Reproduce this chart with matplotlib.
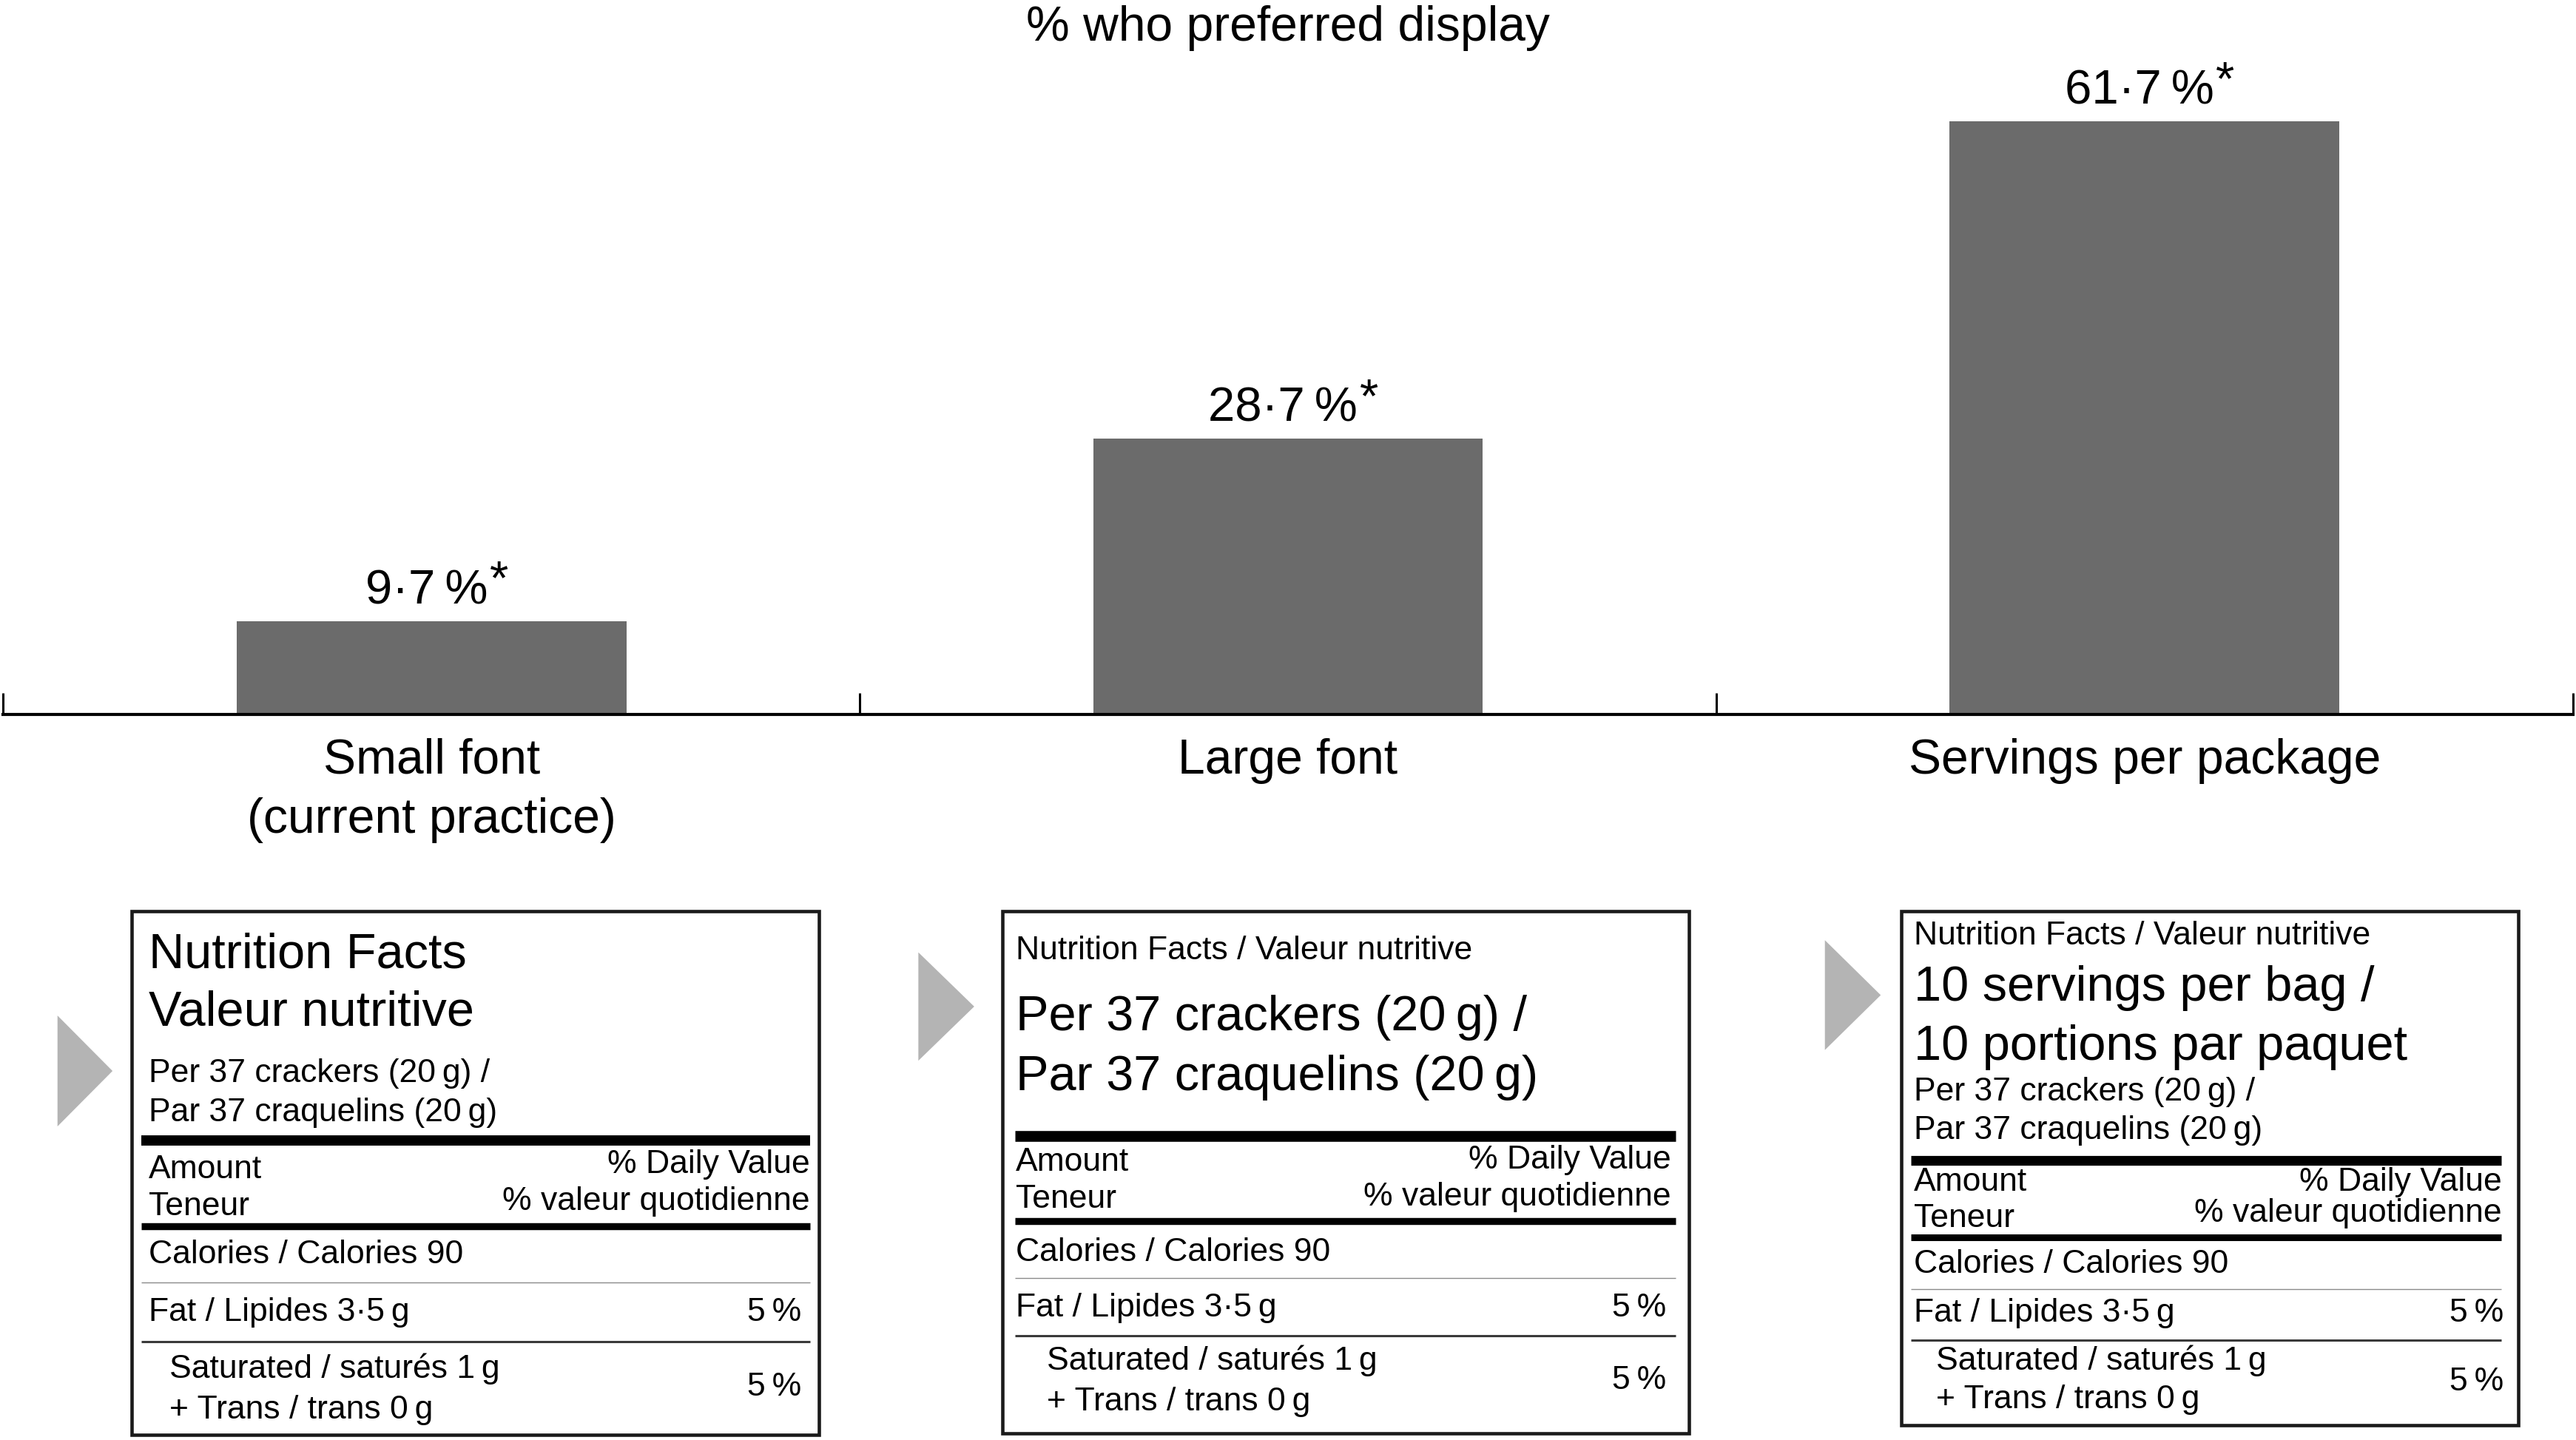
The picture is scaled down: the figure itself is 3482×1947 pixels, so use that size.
import matplotlib
matplotlib.use("Agg")
import matplotlib.pyplot as plt
from matplotlib.patches import Polygon, Rectangle

plt.rcParams['font.family'] = ['Liberation Sans', 'DejaVu Sans']

# ---- bar chart data ----
categories = ["Small font\n(current practice)", "Large font", "Servings per package"]
preferred = [9.7, 28.7, 61.7]
title = "% who preferred display"

# ---- nutrition panel texts ----
panel_headers = [
    ["Nutrition Facts", "Valeur nutritive",
     "Per 37 crackers (20\u2009g) /", "Par 37 craquelins (20\u2009g)"],
    ["Nutrition Facts / Valeur nutritive",
     "Per 37 crackers (20\u2009g) /", "Par 37 craquelins (20\u2009g)"],
    ["Nutrition Facts / Valeur nutritive",
     "10 servings per bag /", "10 portions par paquet",
     "Per 37 crackers (20\u2009g) /", "Par 37 craquelins (20\u2009g)"],
]
amount_text = ["Amount", "Teneur"]
dv_text = ["% Daily Value", "% valeur quotidienne"]
calories_text = "Calories / Calories 90"
fat_text = "Fat / Lipides 3\u00b75\u2009g"
fat_dv = "5\u2009%"
sat_text = ["Saturated / saturés 1\u2009g", "+ Trans / trans 0\u2009g"]
sat_dv = "5\u2009%"

W, H = 1568, 877          # layout grid of the reference (shrunk px)
BIG, SMALL = 48, 32

fig = plt.figure(figsize=(34.82, 19.47), dpi=100)

# ---- bar chart ----
ax = fig.add_axes([2 / W, 1 - 435 / H, 1564 / W, 395 / H])
xs = list(range(len(categories)))
bars = ax.bar(xs, preferred, width=0.455, color="#6b6b6b")
ax.set_xlim(-0.5, 2.5)
ax.set_ylim(0, 395 / 5.85)
ax.set_yticks([])
for s in ['left', 'right', 'top']:
    ax.spines[s].set_visible(False)
ax.spines['bottom'].set_linewidth(3)
ax.set_xticks(xs)
ax.set_xticklabels(categories, fontsize=47.5, linespacing=1.38)
ax.tick_params(axis='x', which='major', length=0, pad=23)
ax.set_xticks([-0.5, 0.5, 1.5, 2.5], minor=True)
ax.tick_params(axis='x', which='minor', direction='in', length=21, width=2.2)

for b, v in zip(bars, preferred):
    lab = ("%.1f" % v).replace(".", "\u00b7") + "\u2009%"
    t = ax.annotate(lab, xy=(b.get_x() + b.get_width() / 2, v), xytext=(-5, 17),
                    textcoords="offset points", ha="center", va="baseline",
                    fontsize=47)
    ax.annotate("*", xy=(1, 1), xycoords=t, xytext=(2, 9),
                textcoords="offset points", ha="left", va="top", fontsize=47)

fig.text(0.5, 1 - 3 / H, title, ha="center", va="top", fontsize=47.5)

# ---- nutrition panels (overlay in reference px) ----
ov = fig.add_axes([0, 0, 1, 1])
ov.set_xlim(0, W)
ov.set_ylim(H, 0)
ov.axis('off')
ov.patch.set_visible(False)

layouts = [
    dict(box=(80, 555, 498.5, 874), arrow=(35, 618.5, 68.5, 686),
         tx=90.5, rl=86, rr=493, dvr=493, pr=488, sx=103,
         hy=[589.5, 624.7, 659, 682.8], hs=[BIG, BIG, SMALL, SMALL],
         thick1=694.5, am=(717.4, 714.2), te=(740, 736.8), thick2=747,
         cal=769.5, thin1=781, fat=804.7, thin2=817.2,
         sat=(839.2, 863.9), satdv=850, tw=(10, 6.8)),
    dict(box=(610, 555, 1028, 873), arrow=(559, 580, 593, 646),
         tx=618.3, rl=618, rr=1020, dvr=1017, pr=1014.3, sx=637.2,
         hy=[584, 627.3, 663.8], hs=[SMALL, BIG, BIG],
         thick1=691.8, am=(713, 711.6), te=(735.6, 734), thick2=743.8,
         cal=767.8, thin1=778.5, fat=802, thin2=813.3,
         sat=(834.3, 859), satdv=846, tw=(10.5, 6.8)),
    dict(box=(1157.5, 555, 1532.7, 868), arrow=(1110.8, 572.6, 1144.8, 639.5),
         tx=1164.9, rl=1163, rr=1522.7, dvr=1522.7, pr=1523.9, sx=1178.3,
         hy=[575.4, 609.5, 645.5, 670.2, 693.8], hs=[SMALL, BIG, BIG, SMALL, SMALL],
         thick1=706.6, am=(725, 725), te=(747.4, 744.2), thick2=753.4,
         cal=775, thin1=785, fat=805, thin2=816,
         sat=(834.3, 857.8), satdv=847, tw=(9.5, 6.5)),
]

for lines, L in zip(panel_headers, layouts):
    x0, y0, x1, y1 = L['box']
    ov.add_patch(Rectangle((x0, y0), x1 - x0, y1 - y0, fill=False,
                           edgecolor="#1a1a1a", linewidth=3.3))
    ax0, ay0, ax1, ay1 = L['arrow']
    ov.add_patch(Polygon([(ax0, ay0), (ax0, ay1), (ax1, (ay0 + ay1) / 2)],
                         closed=True, facecolor="#b4b4b4", edgecolor="none"))
    for txt, y, fs in zip(lines, L['hy'], L['hs']):
        ov.text(L['tx'], y, txt, fontsize=fs, ha="left", va="baseline")
    ov.hlines(L['thick1'], L['rl'], L['rr'], color="black", linewidth=L['tw'][0])
    ov.text(L['tx'], L['am'][0], amount_text[0], fontsize=SMALL, va="baseline")
    ov.text(L['dvr'], L['am'][1], dv_text[0], fontsize=SMALL, va="baseline", ha="right")
    ov.text(L['tx'], L['te'][0], amount_text[1], fontsize=SMALL, va="baseline")
    ov.text(L['dvr'], L['te'][1], dv_text[1], fontsize=SMALL, va="baseline", ha="right")
    ov.hlines(L['thick2'], L['rl'], L['rr'], color="black", linewidth=L['tw'][1])
    ov.text(L['tx'], L['cal'], calories_text, fontsize=SMALL, va="baseline")
    ov.hlines(L['thin1'], L['rl'], L['rr'], color="#8a8a8a", linewidth=1.0)
    ov.text(L['tx'], L['fat'], fat_text, fontsize=SMALL, va="baseline")
    ov.text(L['pr'], L['fat'], fat_dv, fontsize=SMALL, va="baseline", ha="right")
    ov.hlines(L['thin2'], L['rl'], L['rr'], color="#3a3a3a", linewidth=2.2)
    ov.text(L['sx'], L['sat'][0], sat_text[0], fontsize=SMALL, va="baseline")
    ov.text(L['sx'], L['sat'][1], sat_text[1], fontsize=SMALL, va="baseline")
    ov.text(L['pr'], L['satdv'], sat_dv, fontsize=SMALL, va="baseline", ha="right")

fig.savefig("out.png", dpi=100)
